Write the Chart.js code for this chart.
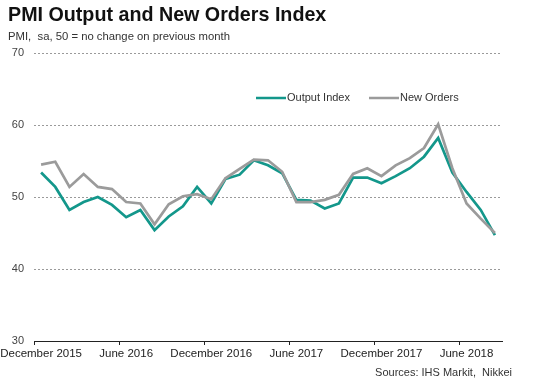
<!DOCTYPE html>
<html>
<head>
<meta charset="utf-8">
<script src="https://cdn.jsdelivr.net/npm/chart.js@4.4.0/dist/chart.umd.min.js"></script>
<style>
  html, body { margin: 0; padding: 0; background: #fff; }
  #wrap { width: 534px; height: 391px; }
</style>
</head>
<body>
<div id="wrap"><canvas id="pmi-chart" width="534" height="391"></canvas></div>
<script>
const months = [
  "December 2015", "January 2016", "February 2016", "March 2016", "April 2016", "May 2016",
  "June 2016", "July 2016", "August 2016", "September 2016", "October 2016", "November 2016",
  "December 2016", "January 2017", "February 2017", "March 2017", "April 2017", "May 2017",
  "June 2017", "July 2017", "August 2017", "September 2017", "October 2017", "November 2017",
  "December 2017", "January 2018", "February 2018", "March 2018", "April 2018", "May 2018",
  "June 2018", "July 2018", "August 2018"
];
const outputIndex = [
  53.4, 51.4, 48.2, 49.3, 50.0, 48.9, 47.2, 48.2, 45.4, 47.3, 48.7, 51.4,
  49.1, 52.5, 53.1, 55.1, 54.4, 53.3, 49.6, 49.5, 48.4, 49.1, 52.7, 52.7,
  51.9, 52.9, 54.0, 55.6, 58.2, 53.4, 50.7, 48.2, 44.7
];
const newOrders = [
  54.5, 54.9, 51.4, 53.2, 51.4, 51.1, 49.3, 49.1, 46.2, 49.0, 50.1, 50.4,
  49.7, 52.6, 53.9, 55.2, 55.1, 53.5, 49.3, 49.3, 49.6, 50.3, 53.2, 54.0,
  52.9, 54.4, 55.4, 56.8, 60.1, 54.0, 49.1, 47.0, 45.0
];
const yTicks = [30, 40, 50, 60, 70];

const FONT = "'Liberation Sans', Arial, sans-serif";
const TEAL = "#13978b";
const GREY = "#9b9b9b";

// title, subtitle, source note and the in-plot legend
const textPlugin = {
  id: "texts",
  afterDraw(chart) {
    const c = chart.ctx;
    c.save();
    c.fillStyle = "#111";
    c.textBaseline = "alphabetic";
    c.font = "bold 19.7px " + FONT;
    c.fillText("PMI Output and New Orders Index", 8, 21);
    c.fillStyle = "#333";
    c.font = "11.3px " + FONT;
    c.fillText("PMI,  sa, 50 = no change on previous month", 8, 40);
    c.font = "11px " + FONT;
    c.textAlign = "right";
    c.fillText("Sources: IHS Markit,  Nikkei", 512, 376);

    // legend
    const items = [
      { ds: chart.data.datasets[0], x: 256 },
      { ds: chart.data.datasets[1], x: 369 }
    ];
    c.textAlign = "left";
    c.textBaseline = "middle";
    items.forEach(it => {
      c.strokeStyle = it.ds.borderColor;
      c.lineWidth = 2.5;
      c.beginPath();
      c.moveTo(it.x, 98);
      c.lineTo(it.x + 30, 98);
      c.stroke();
      c.fillStyle = "#333";
      c.fillText(it.ds.label, it.x + 31, 98);
    });
    c.restore();
  }
};

const ctx = document.getElementById("pmi-chart").getContext("2d");
const chart = new Chart(ctx, {
  type: "line",
  data: {
    labels: months,
    datasets: [
      {
        label: "Output Index",
        data: outputIndex,
        borderColor: TEAL,
        borderWidth: 2.7,
        pointRadius: 0,
        tension: 0,
        order: 1
      },
      {
        label: "New Orders",
        data: newOrders,
        borderColor: GREY,
        borderWidth: 2.7,
        pointRadius: 0,
        tension: 0,
        order: 0
      }
    ]
  },
  options: {
    responsive: false,
    animation: false,
    layout: { padding: { top: 53, right: 32, left: 0, bottom: 0 } },
    plugins: {
      legend: { display: false },
      tooltip: { enabled: false }
    },
    scales: {
      x: {
        offset: true,
        grid: {
          offset: true,
          drawOnChartArea: false,
          tickLength: 4,
          tickColor: c => (c.index !== undefined && c.index % 6 === 0) ? "#222" : "rgba(0,0,0,0)"
        },
        border: { display: true, color: "#222", width: 1 },
        ticks: {
          autoSkip: false,
          maxRotation: 0,
          minRotation: 0,
          padding: 2,
          color: "#222",
          font: { family: FONT, size: 11.5 },
          callback: (v, i) => i % 6 === 0 ? months[i] : ""
        },
        afterFit: s => { s.height = 50; s.paddingLeft = 0; s.paddingRight = 0; }
      },
      y: {
        min: yTicks[0],
        max: yTicks[yTicks.length - 1],
        afterBuildTicks: s => { s.ticks = yTicks.map(v => ({ value: v })); },
        grid: {
          drawTicks: false,
          color: c => c.tick && c.tick.value === 30 ? "rgba(0,0,0,0)" : "#9a9a9a",
          lineWidth: 1
        },
        border: { display: false, dash: [2, 2] },
        ticks: {
          padding: 10,
          color: "#444",
          font: { family: FONT, size: 11 }
        },
        afterFit: s => { s.width = 34; }
      }
    }
  },
  plugins: [textPlugin]
});
</script>
</body>
</html>
